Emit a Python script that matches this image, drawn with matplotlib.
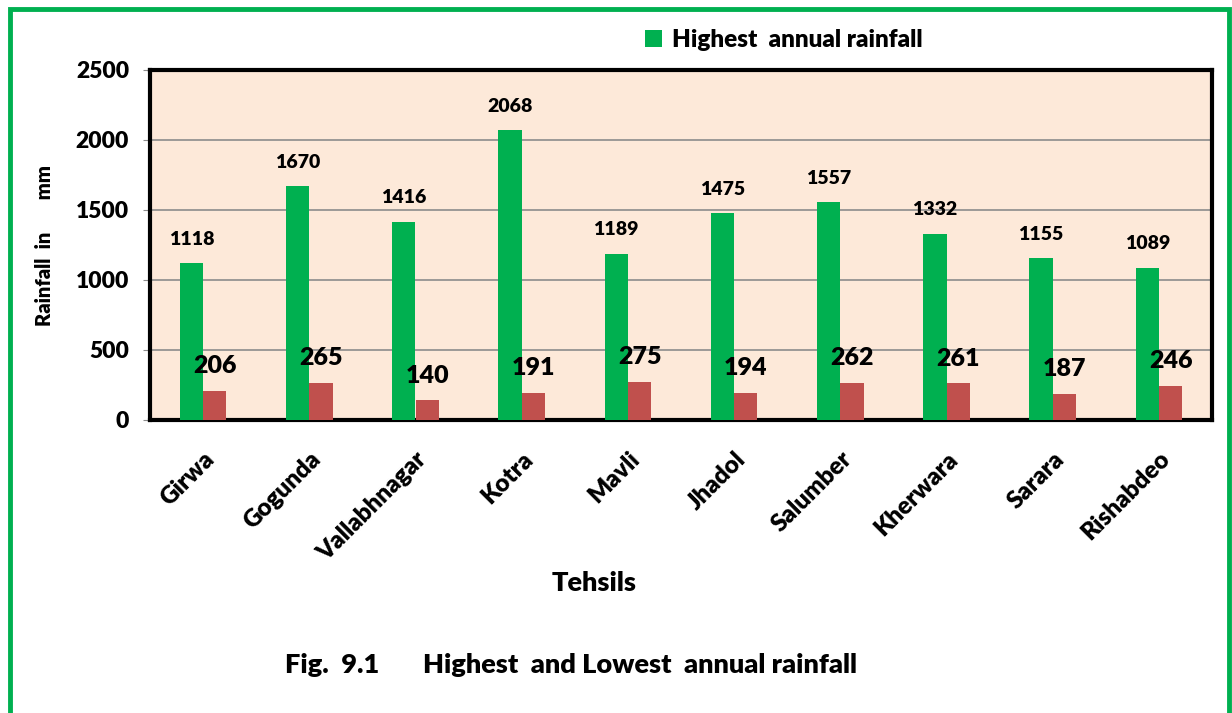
import matplotlib.pyplot as plt
import numpy as np
from matplotlib.patches import Rectangle

plt.rcParams['font.family'] = ['Lato', 'DejaVu Sans']
plt.rcParams['font.weight'] = 'bold'

tehsils = ['Girwa', 'Gogunda', 'Vallabhnagar', 'Kotra', 'Mavli', 'Jhadol',
           'Salumber', 'Kherwara', 'Sarara', 'Rishabdeo']
highest = [1118, 1670, 1416, 2068, 1189, 1475, 1557, 1332, 1155, 1089]
lowest = [206, 265, 140, 191, 275, 194, 262, 261, 187, 246]

green = '#00B050'
red = '#C0504D'
wt = 'heavy'

fig = plt.figure(figsize=(12.32, 7.13), dpi=100)
ax = fig.add_axes([150 / 1232, 1 - 420 / 713, 1062 / 1232, 350 / 713])
ax.set_facecolor('#FDE9D9')

x = np.arange(len(tehsils))
w = 0.22
b1 = ax.bar(x - w / 2, highest, w, color=green, zorder=3, label='Highest  annual rainfall')
b2 = ax.bar(x + w / 2, lowest, w, color=red, zorder=3)

for bar, v in zip(b1, highest):
    ax.annotate(str(v), (bar.get_x() + bar.get_width() / 2, v), xytext=(0, 11),
                textcoords='offset points', ha='center', va='bottom', fontsize=14, fontweight=wt)
for bar, v in zip(b2, lowest):
    ax.annotate(str(v), (bar.get_x() + bar.get_width() / 2, v), xytext=(0, 10),
                textcoords='offset points', ha='center', va='bottom', fontsize=18, fontweight=wt)

ax.set_xlim(-0.5, len(tehsils) - 0.5)
ax.set_ylim(0, 2500)
ax.set_yticks(range(0, 2501, 500))
ax.yaxis.grid(True, color='#8c8c8c', linewidth=1.2, zorder=0)
ax.tick_params(axis='y', length=5, color='#8c8c8c', labelsize=16.5, pad=10)
ax.tick_params(axis='x', length=0, labelsize=17.5, pad=20)
ax.set_xticks(x)
ax.set_xticklabels(tehsils, rotation=45, ha='right', rotation_mode='anchor', fontweight=wt)
for lab in ax.get_yticklabels():
    lab.set_fontweight(wt)
for s in ax.spines.values():
    s.set_linewidth(3)
    s.set_color('black')

ax.set_xlabel('Tehsils', fontsize=19.5, fontweight=wt)
ax.xaxis.set_label_coords((594 - 150) / 1062, -(571 - 420) / 350)
ax.set_ylabel('Rainfall  in       mm', fontsize=14.5, fontweight=wt)
ax.yaxis.set_label_coords(-(150 - 54) / 1062, 0.5)

ax.legend(loc='center left', bbox_to_anchor=(623 / 1232, 1 - 40 / 713), bbox_transform=fig.transFigure,
          frameon=False, handlelength=0.7, handleheight=0.7, handletextpad=0.4,
          prop={'weight': wt, 'size': 17.5})

fig.text(285 / 1232, 1 - 665 / 713, 'Fig.  9.1       Highest  and Lowest  annual rainfall',
         fontsize=19.5, fontweight=wt, va='center', ha='left')

fig.patches.append(Rectangle((10 / 1232, -0.05), 1219 / 1232, 1.05 - 9 / 713, transform=fig.transFigure,
                             fill=False, edgecolor=green, linewidth=3.5, figure=fig))

fig.savefig('out.png', dpi=100)
